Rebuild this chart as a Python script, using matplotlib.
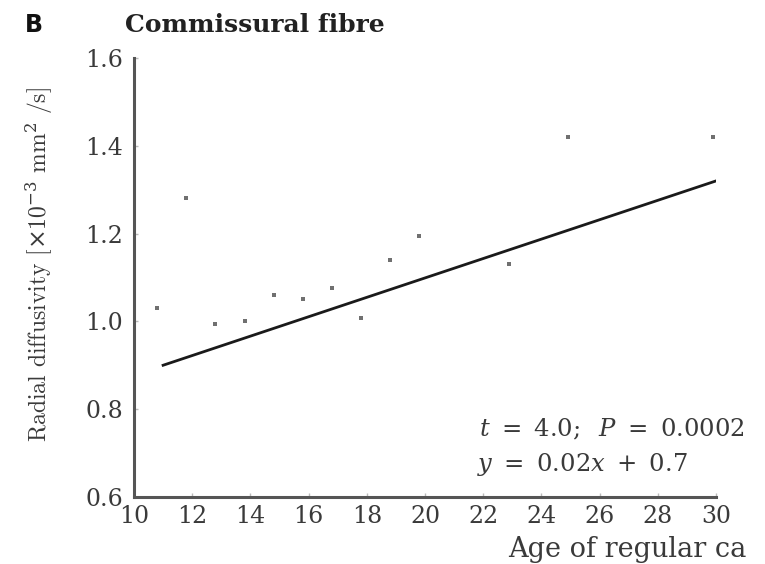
import numpy as np
import matplotlib
matplotlib.use("Agg")
import matplotlib.pyplot as plt

# ---- data ----
age = [10.8, 11.8, 12.8, 13.8, 14.8, 15.8, 16.8, 17.8, 18.8, 19.8, 22.9, 24.9, 29.9]
radial_diff = [1.03, 1.28, 0.995, 1.00, 1.06, 1.05, 1.075, 1.007, 1.14, 1.195, 1.13, 1.42, 1.42]
fit_range = [11, 30]
fit_slope = 0.0221
fit_intercept = 0.657
x_ticks = [10, 12, 14, 16, 18, 20, 22, 24, 26, 28, 30]
y_ticks = [0.6, 0.8, 1.0, 1.2, 1.4, 1.6]

plt.rcParams['font.family'] = ['DejaVu Serif']
plt.rcParams['mathtext.fontset'] = 'dejavuserif'

TXT = '#3a3a3a'

fig = plt.figure(figsize=(7.65, 5.64), dpi=100)
ax = fig.add_axes([134/765, 1 - 497/564, (716-134)/765, (497-58)/564])

ax.scatter(age, radial_diff, marker='s', s=5, color='#707070', linewidths=0, zorder=3)
fx = np.array(fit_range, dtype=float)
ax.plot(fx, fit_slope * fx + fit_intercept, color='#1a1a1a', lw=2.0, zorder=2)

ax.set_xlim(10, 30)
ax.set_ylim(0.6, 1.6)
ax.set_xticks(x_ticks)
ax.set_yticks(y_ticks)
ax.set_xticklabels([str(t) for t in x_ticks])
ax.set_yticklabels([f"{t:.1f}" for t in y_ticks])

for s in ['top', 'right']:
    ax.spines[s].set_visible(False)
for s in ['left', 'bottom']:
    ax.spines[s].set_color('#555555')
    ax.spines[s].set_linewidth(2.2)

ax.tick_params(direction='in', length=3, width=1, color='#bbbbbb',
               labelsize=17, labelcolor=TXT)
ax.tick_params(axis='x', pad=6)
ax.tick_params(axis='y', pad=8)

ax.set_ylabel(r'Radial diffusivity [$\times$10$^{-3}$ mm$^2$ /s]', fontsize=17,
              fontfamily=['cmr10', 'DejaVu Serif'], color=TXT)
ax.yaxis.set_label_coords(55/765, 1 - 264/564, transform=fig.transFigure)

ax.text(745/765, 1 - 436/564, r'$t\ =\ 4.0;\;\ P\ =\ 0.0002$', transform=fig.transFigure,
        ha='right', va='baseline', fontsize=17.5, color=TXT)
ax.text(582/765, 1 - 471/564, r'$y\ =\ 0.02x\ +\ 0.7$', transform=fig.transFigure,
        ha='center', va='baseline', fontsize=17.5, color=TXT)

fig.text(508/765, 1 - 557/564, 'Age of regular ca', ha='left', va='baseline',
         fontsize=19.5, color=TXT)

fig.text(125/765, 1 - 32/564, 'Commissural fibre', ha='left', va='baseline',
         fontsize=18, fontweight='bold', color='#222222')
fig.text(25/765, 1 - 32/564, 'B', ha='left', va='baseline',
         fontsize=17, fontweight='bold', fontfamily='DejaVu Sans', color='#111111')

fig.savefig('out.png', dpi=100)
